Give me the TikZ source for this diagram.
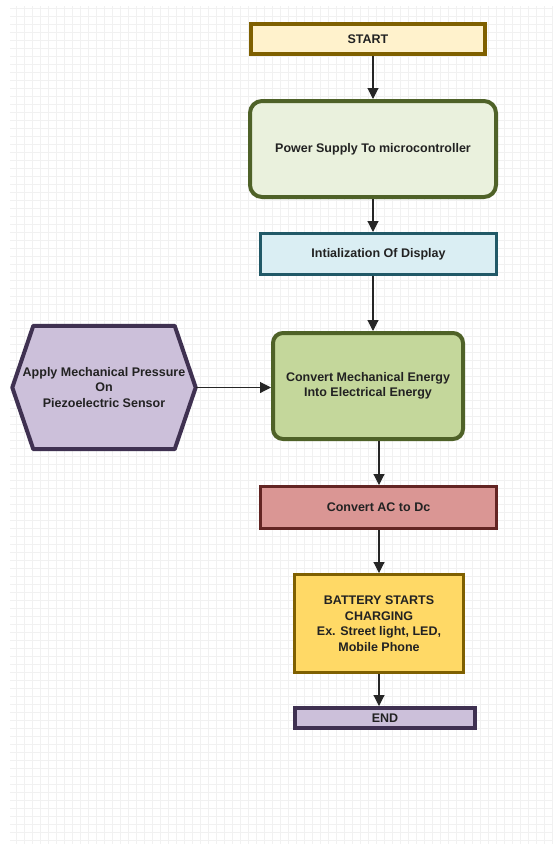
\documentclass[tikz,border=0pt]{standalone}
\usepackage{fontspec}
\setmainfont{Liberation Sans}
\usetikzlibrary{arrows.meta,backgrounds}
\definecolor{txt}{HTML}{222222}
\definecolor{gridc}{HTML}{F1F1F1}
\definecolor{startfill}{HTML}{FFF2CC}
\definecolor{startdraw}{HTML}{7F6000}
\definecolor{powfill}{HTML}{EAF1DD}
\definecolor{powdraw}{HTML}{4F6228}
\definecolor{initfill}{HTML}{DAEEF3}
\definecolor{initdraw}{HTML}{215967}
\definecolor{hexfill}{HTML}{CCC0DA}
\definecolor{hexdraw}{HTML}{3F3151}
\definecolor{convfill}{HTML}{C4D79B}
\definecolor{convdraw}{HTML}{4F6228}
\definecolor{acfill}{HTML}{DA9694}
\definecolor{acdraw}{HTML}{632523}
\definecolor{batfill}{HTML}{FFD966}
\definecolor{batdraw}{HTML}{7F6000}
\begin{document}
\begin{tikzpicture}[x=1pt,y=-1pt,
  box/.style={draw, align=center, text=txt, inner sep=2pt,
    font=\bfseries\fontsize{12.5}{15.5}\selectfont},
  arr/.style={-{Triangle[length=11pt,width=11pt]}, line width=1.1pt, draw=black!85}]
\useasboundingbox (0,0) rectangle (556,844);
\begin{scope}[on background layer]
\fill[white] (0,0) rectangle (556,844);
\draw[gridc, line width=0.4pt, step=8pt] (10,6) grid (552,844);
\end{scope}

\node[box, fill=startfill, draw=startdraw, line width=4pt,
  minimum width=234pt, minimum height=30pt] (start) at (368,39) {START};
\node[box, fill=powfill, draw=powdraw, line width=4pt, rounded corners=12pt,
  minimum width=246pt, minimum height=96pt] (power) at (373,149) {Power Supply To microcontroller};
\node[box, fill=initfill, draw=initdraw, line width=3pt,
  minimum width=236pt, minimum height=41pt] (init) at (378.5,254) {Intialization Of Display};
\node[box, draw=none, minimum width=183pt, minimum height=123pt] (hex) at (104,387.5)
  {Apply Mechanical Pressure\\On\\Piezoelectric Sensor};
\begin{scope}[on background layer]
\draw[fill=hexfill, draw=hexdraw, line width=4pt, line join=round]
  (hex.west) -- ([xshift=21pt]hex.north west) -- ([xshift=-21pt]hex.north east)
  -- (hex.east) -- ([xshift=-21pt]hex.south east) -- ([xshift=21pt]hex.south west) -- cycle;
\end{scope}
\node[box, fill=convfill, draw=convdraw, line width=4pt, rounded corners=10pt,
  minimum width=190pt, minimum height=106pt] (conv) at (368,386)
  {Convert Mechanical Energy\\Into Electrical Energy};
\node[box, fill=acfill, draw=acdraw, line width=3pt,
  minimum width=236pt, minimum height=42pt] (ac) at (378.5,507.5) {Convert AC to Dc};
\node[box, fill=batfill, draw=batdraw, line width=3pt,
  minimum width=169pt, minimum height=98pt] (bat) at (379,623.5)
  {BATTERY STARTS\\CHARGING\\Ex. Street light, LED,\\Mobile Phone};
\node[box, fill=hexfill, draw=hexdraw, line width=4pt, inner sep=0pt,
  minimum width=180pt, minimum height=20pt] (end) at (385,718) {END};

\draw[arr] (start.south -| power.north) -- (power.north);
\draw[arr] (power.south) -- (power.south |- init.north);
\draw[arr] (init.south -| power.south) -- (conv.north -| power.south);
\draw[arr] (hex.east) -- (hex.east -| conv.west);
\draw[arr] (conv.south -| bat.north) -- (ac.north -| bat.north);
\draw[arr] (ac.south -| bat.north) -- (bat.north);
\draw[arr] (bat.south) -- (bat.south |- end.north);
\end{tikzpicture}
\end{document}
